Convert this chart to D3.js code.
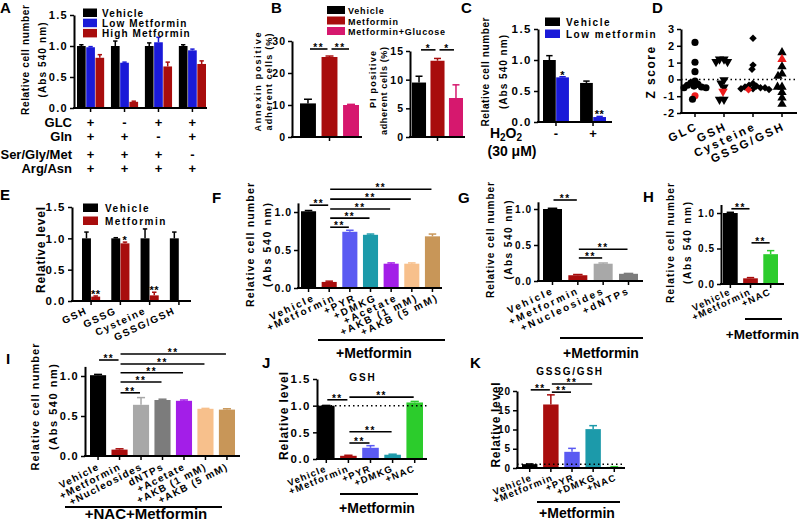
<!DOCTYPE html>
<html><head><meta charset="utf-8">
<script src="https://cdn.jsdelivr.net/npm/d3@7"></script>
<style>
body{margin:0;background:#fff;}
svg text{font-family:"Liberation Sans",Arial,Helvetica,sans-serif;fill:#000;}
</style></head><body>
<svg id="c" width="800" height="521"></svg>
<script>
// ================= DATA =================
// Panel A
const aConditions = ["GLC","Gln","Ser/Gly/Met","Arg/Asn"];
const aGroups = ["g1","g2","g3","g4"];
const aSigns = [["+","-","+","+"],["+","+","-","+"],["+","+","+","-"],["+","+","+","+"]];
const aSeries = ["Vehicle","Low Metformin","High Metformin"];
const aVehicle = [1.00,1.00,1.00,1.00];
const aVehicleErr = [0.02,0.08,0.05,0.02];
const aLow = [0.98,0.73,1.06,0.93];
const aLowErr = [0.01,0.01,0.08,0.02];
const aHigh = [0.81,0.10,0.67,0.71];
const aHighErr = [0.05,0.01,0.07,0.05];
const aTicks = [0,0.5,1.0,1.5];
// Panel B
const bSeries = ["Vehicle","Metformin","Metformin+Glucose"];
const bAnnexin = [10.5,25.0,10.0];
const bAnnexinErr = [1.3,0.3,0.2];
const bAnnexinTicks = [0,10,20,30];
const bAnnexinSig = [[0,1,"**"],[1,2,"**"]];
const bPI = [9.5,13.3,6.8];
const bPIErr = [1.1,0.4,2.3];
const bPITicks = [0,5,10,15];
const bPISig = [[0,1,"*"],[1,2,"*"]];
// Panel C
const cSeries = ["Vehicle","Low metformin"];
const cGroups = ["-","+"];
const cVehicle = [1.00,0.63];
const cVehicleErr = [0.07,0.03];
const cLow = [0.72,0.08];
const cLowErr = [0.01,0.01];
const cLowStars = ["*","**"];
const cTicks = [0,0.5,1.0,1.5];
// Panel D
const dCategories = ["GLC","GSH","Cysteine","GSSG/GSH"];
const dGLC = [2.2,1.02,0.46,-0.1,-0.2,-0.3,-0.35,-0.4,-0.45,-0.5,-0.5,-1.18];
const dGSH = [1.2,1.2,1.05,1.05,-0.03,-0.23,-0.47,-1.2,-1.2];
const dCysteine = [2.45,0.85,0.6,-0.25,-0.35,-0.4,-0.45,-0.5,-0.5,-0.55,-0.55,-0.6];
const dRatio = [1.6,0.76,0.33,0.2,-0.45,-0.45,-0.77,-1.1,-1.47];
const dHighlight = [-0.97,-0.72,-0.62,1.2];
const dTicks = [-2,-1,0,1,2,3];
// Panel E
const eCategories = ["GSH","GSSG","Cysteine","GSSG/GSH"];
const eSeries = ["Vehicle","Metformin"];
const eVehicle = [1.0,1.0,1.0,1.0];
const eVehicleErr = [0.1,0.01,0.15,0.1];
const eMet = [0.07,0.92,0.09,0.01];
const eMetErr = [0.01,0.02,0.05,0];
const eMetStars = ["**","*","**",""];
const eTicks = [0,0.5,1.0,1.5];
// Panel F
const fCategories = ["Vehicle","+Metformin","+PYR","+DMKG","+Acetate","+AKB (1 mM)","+AKB (5 mM)"];
const fValues = [1.01,0.08,0.74,0.70,0.32,0.32,0.68];
const fErr = [0.01,0.01,0.02,0.01,0.01,0.01,0.03];
const fSig = [[0,1,"**"],[1,2,"**"],[1,3,"**"],[1,4,"**"],[1,5,"**"],[1,6,"**"]];
const cellTicks = [0,0.5,1.0];
// Panel G
const gCategories = ["Vehicle","+Metformin","+Nucleosides","+dNTPs"];
const gValues = [1.0,0.08,0.24,0.10];
const gErr = [0.01,0.01,0.01,0.005];
const gSig = [[0,1,"**"],[1,2,"**"],[1,3,"**"]];
// Panel H
const hCategories = ["Vehicle","+Metformin","+NAC"];
const hValues = [1.0,0.08,0.42];
const hErr = [0.01,0.01,0.05];
const hSig = [[0,1,"**"],[1,2,"**"]];
// Panel I
const iCategories = ["Vehicle","+Metformin","+Nucleosides","dNTPs","+Acetate","+AKB (1 mM)","+AKB (5 mM)"];
const iValues = [1.01,0.08,0.64,0.70,0.69,0.59,0.58];
const iErr = [0.01,0.01,0.09,0.01,0.01,0.005,0.01];
const iSig = [[0,1,"**"],[1,2,"**"],[1,3,"**"],[1,4,"**"],[1,5,"**"],[1,6,"**"]];
// Panel J
const jCategories = ["Vehicle","+Metformin","+PYR","+DMKG","+NAC"];
const jValues = [1.0,0.06,0.21,0.08,1.06];
const jErr = [0.005,0.01,0.04,0.01,0.02];
const jSig = [[0,1,"**"],[1,2,"**"],[1,3,"**"],[1,4,"**"]];
const jTicks = [0,0.5,1.0,1.5];
// Panel K
const kCategories = ["Vehicle","+Metformin","+PYR","+DMKG","+NAC"];
const kValues = [1.0,16.5,4.2,10.1,0.3];
const kErr = [0.05,2.5,0.9,0.9,0.05];
const kSig = [[0,1,"**"],[1,2,"**"],[1,3,"**"]];
const kTicks = [0,5,10,15,20];

// ================= STYLE =================
const BLACK="#000000", RED="#a80d0d", BLUE="#1a1ad8", MAG="#d6186e";
const PYRC="#5a5af2", DMKGC="#1c9aaa", ACEC="#a31ee8", AKB1C="#f7c08c", AKB5C="#c89658";
const NUCC="#a8a8a8", DNTC="#7c7c7c", NACC="#2ccc2c";

const svg = d3.select("#c");
const FONT = "'Liberation Sans', Arial, Helvetica, sans-serif";

function txt(g,s,x,y,o={}){
  const t=g.append("text").attr("x",x).attr("y",y).text(s)
    .attr("font-size",o.fs||12).attr("font-weight",o.fw||"bold")
    .attr("text-anchor",o.anchor||"start");
  if(o.ls!=null) t.attr("letter-spacing",o.ls);
  if(o.fill) t.style("fill",o.fill);
  return t;
}
function panelLetter(s,x,y){ txt(svg,s,x,y,{fs:15}); }

function drawYAxis(g,y,ax,o){
  const axis=d3.axisLeft(y).tickValues(o.ticks).tickSize(4).tickSizeOuter(0).tickPadding(o.pad??2)
    .tickFormat(o.fmt||(d=>String(d)));
  const a=g.append("g").attr("transform",`translate(${ax},0)`).call(axis);
  a.attr("font-family",FONT).attr("font-size",null);
  a.select(".domain").attr("stroke","#000").attr("stroke-width",2);
  a.selectAll(".tick line").attr("stroke","#000").attr("stroke-width",1.5);
  a.selectAll(".tick text").attr("font-weight","bold").attr("font-size",o.fs).attr("letter-spacing",o.ls);
}
function drawXAxis(g,ax,xEnd,y0,centers){
  g.append("line").attr("x1",ax-1).attr("x2",xEnd).attr("y1",y0).attr("y2",y0).attr("stroke","#000").attr("stroke-width",2);
  g.selectAll(null).data(centers).join("line").attr("x1",d=>d).attr("x2",d=>d)
    .attr("y1",y0).attr("y2",y0+4).attr("stroke","#000").attr("stroke-width",1.5);
}
function ylab(g,lines,xs,cy,fs,tls,ls){
  lines.forEach((s,i)=>{
    const t=g.append("text").attr("transform",`translate(${xs[i]},${cy}) rotate(-90)`)
      .attr("text-anchor","middle").attr("font-size",fs).attr("font-weight","bold").text(s);
    if(tls&&tls[i]) t.attr("textLength",tls[i]).attr("lengthAdjust","spacing");
    else if(ls!=null) t.attr("letter-spacing",ls);
  });
}
function xlabs(g,labels,centers,y0,o){
  labels.forEach((s,i)=>{
    g.append("text").attr("transform",`translate(${centers[i]+o.dx},${y0+o.dy}) rotate(${o.rot??-25})`)
      .attr("text-anchor","end").attr("font-size",o.fs).attr("font-weight","bold")
      .attr("letter-spacing",o.ls).text(s);
  });
}
function errBar(g,cx,y,v,e,w,color){
  if(!e) return;
  g.append("line").attr("x1",cx).attr("x2",cx).attr("y1",y(v)).attr("y2",y(v+e)).attr("stroke",color).attr("stroke-width",1.5);
  g.append("line").attr("x1",cx-w/2).attr("x2",cx+w/2).attr("y1",y(v+e)).attr("y2",y(v+e)).attr("stroke",color).attr("stroke-width",1.5);
}
function sigLines(g,sig,levels,centers,y,o){
  sig.forEach((s,k)=>{
    const ly=y(levels[k]);
    const x1=centers[s[0]]+(o.inset??1), x2=centers[s[1]]-(o.inset??1);
    g.append("line").attr("x1",x1).attr("x2",x2).attr("y1",ly).attr("y2",ly).attr("stroke","#000").attr("stroke-width",1.6);
    txt(g,s[2],(x1+x2)/2,ly+(o.sdy??2),{fs:o.fs||10,anchor:"middle",ls:o.ls??1});
  });
}
function legend(g,names,colors,o){
  names.forEach((n,i)=>{
    const yy=o.y+i*o.dy;
    g.append("rect").attr("x",o.x).attr("y",yy-o.sh).attr("width",o.sw).attr("height",o.sh).attr("fill",colors[i]);
    txt(g,n,o.x+o.sw+o.gap,yy,{fs:o.fs,ls:o.ls});
  });
}

// Simple (one series) bar panel
function barPanel(c){
  const g=svg.append("g");
  const y=d3.scaleLinear().domain(c.yDomain).range(c.yRange);
  const x=d3.scaleBand().domain(c.cats).range(c.band).paddingInner(c.pi).paddingOuter(0);
  const bw=x.bandwidth();
  const centers=c.cats.map(d=>x(d)+bw/2);
  g.selectAll(null).data(c.cats).join("rect")
    .attr("x",d=>x(d)).attr("width",bw)
    .attr("y",(d,i)=>y(c.values[i])).attr("height",(d,i)=>y(0)-y(c.values[i]))
    .attr("fill",(d,i)=>c.colors[i]);
  c.cats.forEach((d,i)=>errBar(g,centers[i],y,c.values[i],c.errs[i],bw*0.5,c.colors[i]));
  if(c.dotted!=null){
    g.append("line").attr("x1",c.ax).attr("x2",c.dotEnd).attr("y1",y(c.dotted)).attr("y2",y(c.dotted))
      .attr("stroke","#000").attr("stroke-width",1.5).attr("stroke-dasharray","1.5,3");
  }
  drawYAxis(g,y,c.ax,c.yAxis);
  drawXAxis(g,c.ax,c.xEnd,y(c.yDomain[0]),c.tickAll===false?[centers[Math.floor(centers.length/2)]]:centers);
  if(c.xl) xlabs(g,c.cats,centers,y(c.yDomain[0]),c.xl);
  if(c.sig) sigLines(g,c.sig,c.sigLevels,centers,y,c.sigStyle||{});
  if(c.ylab) ylab(g,c.ylab.lines,c.ylab.xs,c.ylab.cy,c.ylab.fs,c.ylab.tl,c.ylab.ls);
  if(c.group){
    g.append("line").attr("x1",c.group.x1).attr("x2",c.group.x2).attr("y1",c.group.y).attr("y2",c.group.y).attr("stroke","#000").attr("stroke-width",1.8);
    txt(g,c.group.text,c.group.tx,c.group.ty,{fs:c.group.fs||14,anchor:c.group.anchor||"middle"});
  }
  if(c.title) txt(g,c.title.text,c.title.x,c.title.y,{fs:10,anchor:"middle",ls:c.title.ls});
  return {g,y,x,centers};
}

// Grouped bar panel
function groupedPanel(c){
  const g=svg.append("g");
  const y=d3.scaleLinear().domain(c.yDomain).range(c.yRange);
  const x0=d3.scaleBand().domain(c.groups).range(c.band).paddingInner(c.pi).paddingOuter(0);
  const x1=d3.scaleBand().domain(c.series.map(s=>s.name)).range([0,x0.bandwidth()]).paddingInner(c.pi2||0).paddingOuter(0);
  const bw=x1.bandwidth();
  c.series.forEach(s=>{
    g.selectAll(null).data(c.groups).join("rect")
      .attr("x",d=>x0(d)+x1(s.name)).attr("width",bw)
      .attr("y",(d,i)=>y(s.values[i])).attr("height",(d,i)=>y(0)-y(s.values[i]))
      .attr("fill",s.color);
    c.groups.forEach((d,i)=>{
      const cx=x0(d)+x1(s.name)+bw/2;
      errBar(g,cx,y,s.values[i],s.errs[i],bw*0.5,s.color);
      if(s.stars&&s.stars[i]) txt(g,s.stars[i],cx,y(s.values[i]+s.errs[i])+2,{fs:11,anchor:"middle",ls:0.5});
    });
  });
  const centers=c.groups.map(d=>x0(d)+x0.bandwidth()/2);
  drawYAxis(g,y,c.ax,c.yAxis);
  drawXAxis(g,c.ax,c.xEnd,y(c.yDomain[0]),centers);
  if(c.ylab) ylab(g,c.ylab.lines,c.ylab.xs,c.ylab.cy,c.ylab.fs,c.ylab.tl,c.ylab.ls);
  return {g,y,centers};
}

// ================= PANEL A =================
panelLetter("A",0,13);
const pA=groupedPanel({
  groups:aGroups, band:[77,206], pi:0.2, pi2:0.06,
  series:[{name:aSeries[0],values:aVehicle,errs:aVehicleErr,color:BLACK},
          {name:aSeries[1],values:aLow,errs:aLowErr,color:BLUE},
          {name:aSeries[2],values:aHigh,errs:aHighErr,color:RED}],
  yDomain:[0,1.5], yRange:[108,15], ax:74, xEnd:207,
  yAxis:{ticks:aTicks,fmt:d3.format(".1f"),fs:11,ls:1.3},
  ylab:{lines:["Relative cell number","(Abs 540 nm)"],xs:[29,46],cy:60,fs:10,tl:[110,75]}
});
legend(pA.g,aSeries,[BLACK,BLUE,RED],{x:83,y:17,dy:10.2,sw:14,sh:8.5,gap:5,fs:10,ls:1.1});
const aBase=[127,141,159,173];
aConditions.forEach((cName,r)=>{
  txt(pA.g,cName,72,aBase[r],{fs:13,anchor:"end"});
  aSigns[r].forEach((s,gi)=>txt(pA.g,s,pA.centers[gi],aBase[r],{fs:13,anchor:"middle"}));
});

// ================= PANEL B =================
panelLetter("B",271,13);
const bColors=[BLACK,RED,MAG];
barPanel({cats:bSeries,values:bAnnexin,errs:bAnnexinErr,colors:bColors,
  band:[300,359],pi:0.26,yDomain:[0,30],yRange:[137,41],ax:292,xEnd:362,tickAll:false,
  yAxis:{ticks:bAnnexinTicks,fs:10.5,ls:1},
  sig:bAnnexinSig,sigLevels:[27.5,27.5],sigStyle:{inset:2,fs:10,ls:1.5},
  ylab:{lines:["Annexin positive","adherent cells (%)"],xs:[261,272],cy:82,fs:9,tl:[99,97]}});
barPanel({cats:bSeries,values:bPI,errs:bPIErr,colors:bColors,
  band:[412,463],pi:0.24,yDomain:[0,15],yRange:[137,51],ax:410,xEnd:465,tickAll:false,
  yAxis:{ticks:bPITicks,fs:10.5,ls:1},
  sig:bPISig,sigLevels:[15.2,15.2],sigStyle:{inset:2,fs:10,ls:1}});
const gBl=svg.append("g");
ylab(gBl,["PI positive"],[376],79,9,null,1.2);
ylab(gBl,["adherent cells (%)"],[387],91,9,[88]);
legend(gBl,bSeries,bColors,{x:327,y:14,dy:10.5,sw:18,sh:8,gap:3,fs:9,ls:0.8});

// ================= PANEL C =================
panelLetter("C",461,13);
const pC=groupedPanel({
  groups:cGroups, band:[543,606], pi:0.3, pi2:0.03,
  series:[{name:cSeries[0],values:cVehicle,errs:cVehicleErr,color:BLACK},
          {name:cSeries[1],values:cLow,errs:cLowErr,color:BLUE,stars:cLowStars}],
  yDomain:[0,1.5], yRange:[122,29], ax:538, xEnd:612,
  yAxis:{ticks:cTicks,fmt:d3.format(".1f"),fs:11.5,ls:1.5},
  ylab:{lines:["Relative cell number","(Abs 540 nm)"],xs:[489,507],cy:72,fs:10,tl:[109,74]}
});
legend(pC.g,cSeries,[BLACK,BLUE],{x:545,y:26,dy:12,sw:15,sh:8.5,gap:6,fs:10,ls:1.5});
cGroups.forEach((s,i)=>txt(pC.g,s,pC.centers[i],138,{fs:13,anchor:"middle"}));
{
  const t=txt(pC.g,"",506,138,{fs:14,anchor:"middle"});
  t.append("tspan").text("H");
  t.append("tspan").attr("font-size",10).attr("dy",3).text("2");
  t.append("tspan").attr("dy",-3).text("O");
  t.append("tspan").attr("font-size",10).attr("dy",3).text("2");
  txt(pC.g,"(30 μM)",512,156,{fs:14,anchor:"middle"});
}

// ================= PANEL D =================
panelLetter("D",652,13);
{
  const g=svg.append("g");
  const y=d3.scaleLinear().domain([-2,3]).range([113,29]);
  const x=d3.scalePoint().domain(dCategories).range([695,782]);
  const ax=681;
  g.append("line").attr("x1",ax).attr("x2",797).attr("y1",y(0)).attr("y2",y(0))
    .attr("stroke","#000").attr("stroke-width",1.5).attr("stroke-dasharray","1.5,3");
  const series=[dGLC,dGSH,dCysteine,dRatio];
  const symbols=[
    {type:d3.symbolCircle,size:40,rot:0},
    {type:d3.symbolTriangle,size:38,rot:180},
    {type:d3.symbolSquare,size:28,rot:45},
    {type:d3.symbolTriangle,size:38,rot:0}];
  function dodge(points,cx,minD){
    const placed=[];
    points.slice().sort((a,b)=>b.v-a.v).forEach(p=>{
      const py=y(p.v);
      for(let k=0;k<400;k++){
        const off=(k%2===0?1:-1)*Math.ceil(k/2)*0.5;
        if(placed.every(q=>(q.x-(cx+off))**2+(q.y-py)**2>=minD*minD)){p.x=cx+off;p.y=py;placed.push(p);break;}
      }
    });
    return placed;
  }
  dCategories.forEach((cat,i)=>{
    const pts=series[i].map(v=>({v,red:false})).concat([{v:dHighlight[i],red:true}]);
    const placed=dodge(pts,x(cat),4.3);
    const sym=d3.symbol().type(symbols[i].type).size(symbols[i].size);
    g.selectAll(null).data(placed).join("path").attr("d",sym)
      .attr("transform",d=>`translate(${d.x},${d.y}) rotate(${symbols[i].rot})`)
      .attr("fill",d=>d.red?"#ee1c1c":"#000");
  });
  drawYAxis(g,y,ax,{ticks:dTicks,fs:11,ls:1});
  drawXAxis(g,ax,797,y(-2),dCategories.map(d=>x(d)));
  xlabs(g,dCategories,dCategories.map(d=>x(d)),y(-2),{dx:4,dy:16,fs:11.5,ls:2.4,rot:-25});
  ylab(g,["Z score"],[655],72,12,null,1.5);
}

// ================= PANEL E =================
panelLetter("E",0,200);
const pE=groupedPanel({
  groups:eCategories, band:[82,188], pi:0.38, pi2:0.03,
  series:[{name:eSeries[0],values:eVehicle,errs:eVehicleErr,color:BLACK},
          {name:eSeries[1],values:eMet,errs:eMetErr,color:RED,stars:eMetStars}],
  yDomain:[0,1.5], yRange:[301,207], ax:72, xEnd:191,
  yAxis:{ticks:eTicks,fmt:d3.format(".1f"),fs:11.5,ls:1.5},
  ylab:{lines:["Relative level"],xs:[45],cy:250,fs:12,tl:[86]}
});
legend(pE.g,eSeries,[BLACK,RED],{x:83,y:212,dy:13,sw:15,sh:8.5,gap:7,fs:10,ls:1.5});
xlabs(pE.g,eCategories,pE.centers,301,{dx:-3,dy:12,fs:10,ls:1.6,rot:-25});

// ================= PANEL F =================
panelLetter("F",212,203);
barPanel({cats:fCategories,values:fValues,errs:fErr,
  colors:[BLACK,RED,PYRC,DMKGC,ACEC,AKB1C,AKB5C],
  band:[301,440],pi:0.27,yDomain:[0,1.12],yRange:[288,202.9],ax:298,xEnd:442,
  yAxis:{ticks:cellTicks,fmt:d3.format(".1f"),fs:10.5,ls:1},
  xl:{dx:7,dy:12,fs:10,ls:2,rot:-25},
  sig:fSig,sigLevels:[1.09,0.80,0.92,1.04,1.17,1.30],sigStyle:{inset:1,fs:10,ls:1.5},
  ylab:{lines:["Relative cell number","(Abs 540 nm)"],xs:[254,271],cy:245,fs:10.5,tl:[124,84]},
  group:{x1:318,x2:445,y:340,text:"+Metformin",tx:374,ty:358}});

// ================= PANEL G =================
panelLetter("G",458,203);
barPanel({cats:gCategories,values:gValues,errs:gErr,
  colors:[BLACK,RED,NUCC,DNTC],
  band:[543,638],pi:0.25,yDomain:[0,1.1],yRange:[281,201.8],ax:538,xEnd:643,
  yAxis:{ticks:cellTicks,fmt:d3.format(".1f"),fs:10,ls:1},
  xl:{dx:2,dy:12,fs:10,ls:2.2,rot:-25},
  sig:gSig,sigLevels:[1.125,0.32,0.44],sigStyle:{inset:1,fs:10,ls:1.5},
  ylab:{lines:["Relative cell number","(Abs 540 nm)"],xs:[494,512],cy:240,fs:10,tl:[116,79]},
  group:{x1:560,x2:643,y:338,text:"+Metformin",tx:601,ty:358}});

// ================= PANEL H =================
panelLetter("H",643,202);
barPanel({cats:hCategories,values:hValues,errs:hErr,
  colors:[BLACK,RED,NACC],
  band:[723,778],pi:0.27,yDomain:[0,1.12],yRange:[284,204.5],ax:721,xEnd:784,
  yAxis:{ticks:cellTicks,fmt:d3.format(".1f"),fs:10,ls:1},
  xl:{dx:1,dy:10,fs:9.5,ls:1.2,rot:-25},
  sig:hSig,sigLevels:[1.06,0.58],sigStyle:{inset:1,fs:10,ls:1.5},
  ylab:{lines:["Relative cell number","(Abs 540 nm)"],xs:[674,691],cy:243,fs:10,tl:[120,82]},
  group:{x1:745,x2:782,y:319,text:"+Metformin",tx:799,ty:339,fs:13.5,anchor:"end"}});

// ================= PANEL I =================
panelLetter("I",6,364);
barPanel({cats:iCategories,values:iValues,errs:iErr,
  colors:[BLACK,RED,NUCC,DNTC,ACEC,AKB1C,AKB5C],
  band:[90,235],pi:0.25,yDomain:[0,1.12],yRange:[456,366.4],ax:85,xEnd:240,
  yAxis:{ticks:cellTicks,fmt:d3.format(".1f"),fs:11,ls:1.3},
  xl:{dx:2,dy:13,fs:10,ls:1.3,rot:-27},
  sig:iSig,sigLevels:[1.2,0.79,0.925,1.04,1.15,1.275],sigStyle:{inset:1,fs:10,ls:1.5},
  ylab:{lines:["Relative cell number","(Abs 540 nm)"],xs:[39,57],cy:407,fs:11,tl:[127,86]},
  group:{x1:65,x2:222,y:507,text:"+NAC+Metformin",tx:146,ty:519,fs:15}});

// ================= PANEL J =================
panelLetter("J",262,368);
barPanel({cats:jCategories,values:jValues,errs:jErr,
  colors:[BLACK,RED,PYRC,DMKGC,NACC],
  band:[318,423],pi:0.25,yDomain:[0,1.5],yRange:[459,379],ax:317,xEnd:427,
  yAxis:{ticks:jTicks,fmt:d3.format(".1f"),fs:11.5,ls:1.5},
  xl:{dx:1,dy:12,fs:9.5,ls:1.2,rot:-22},
  sig:jSig,sigLevels:[1.11,0.30,0.51,1.16],sigStyle:{inset:1,fs:10,ls:1.5},
  dotted:1.0,dotEnd:427,
  ylab:{lines:["Relative level"],xs:[288],cy:416,fs:12,tl:[88]},
  title:{text:"GSH",x:363,y:381,ls:2},
  group:{x1:340,x2:418,y:494,text:"+Metformin",tx:377,ty:513}});

// ================= PANEL K =================
panelLetter("K",470,368);
barPanel({cats:kCategories,values:kValues,errs:kErr,
  colors:[BLACK,RED,PYRC,DMKGC,NACC],
  band:[522,622],pi:0.27,yDomain:[0,20],yRange:[468,391],ax:517,xEnd:625,
  yAxis:{ticks:kTicks,fs:10,ls:1},
  xl:{dx:3,dy:12,fs:9.5,ls:1.2,rot:-22},
  sig:kSig,sigLevels:[20.3,19.7,21.8],sigStyle:{inset:1,fs:10,ls:1.5},
  dotted:1.0,dotEnd:623,
  ylab:{lines:["Relative level"],xs:[500],cy:425,fs:12,tl:[85]},
  title:{text:"GSSG/GSH",x:570,y:375,ls:1.8},
  group:{x1:537,x2:620,y:502,text:"+Metformin",tx:577,ty:518}});
</script>
</body></html>
